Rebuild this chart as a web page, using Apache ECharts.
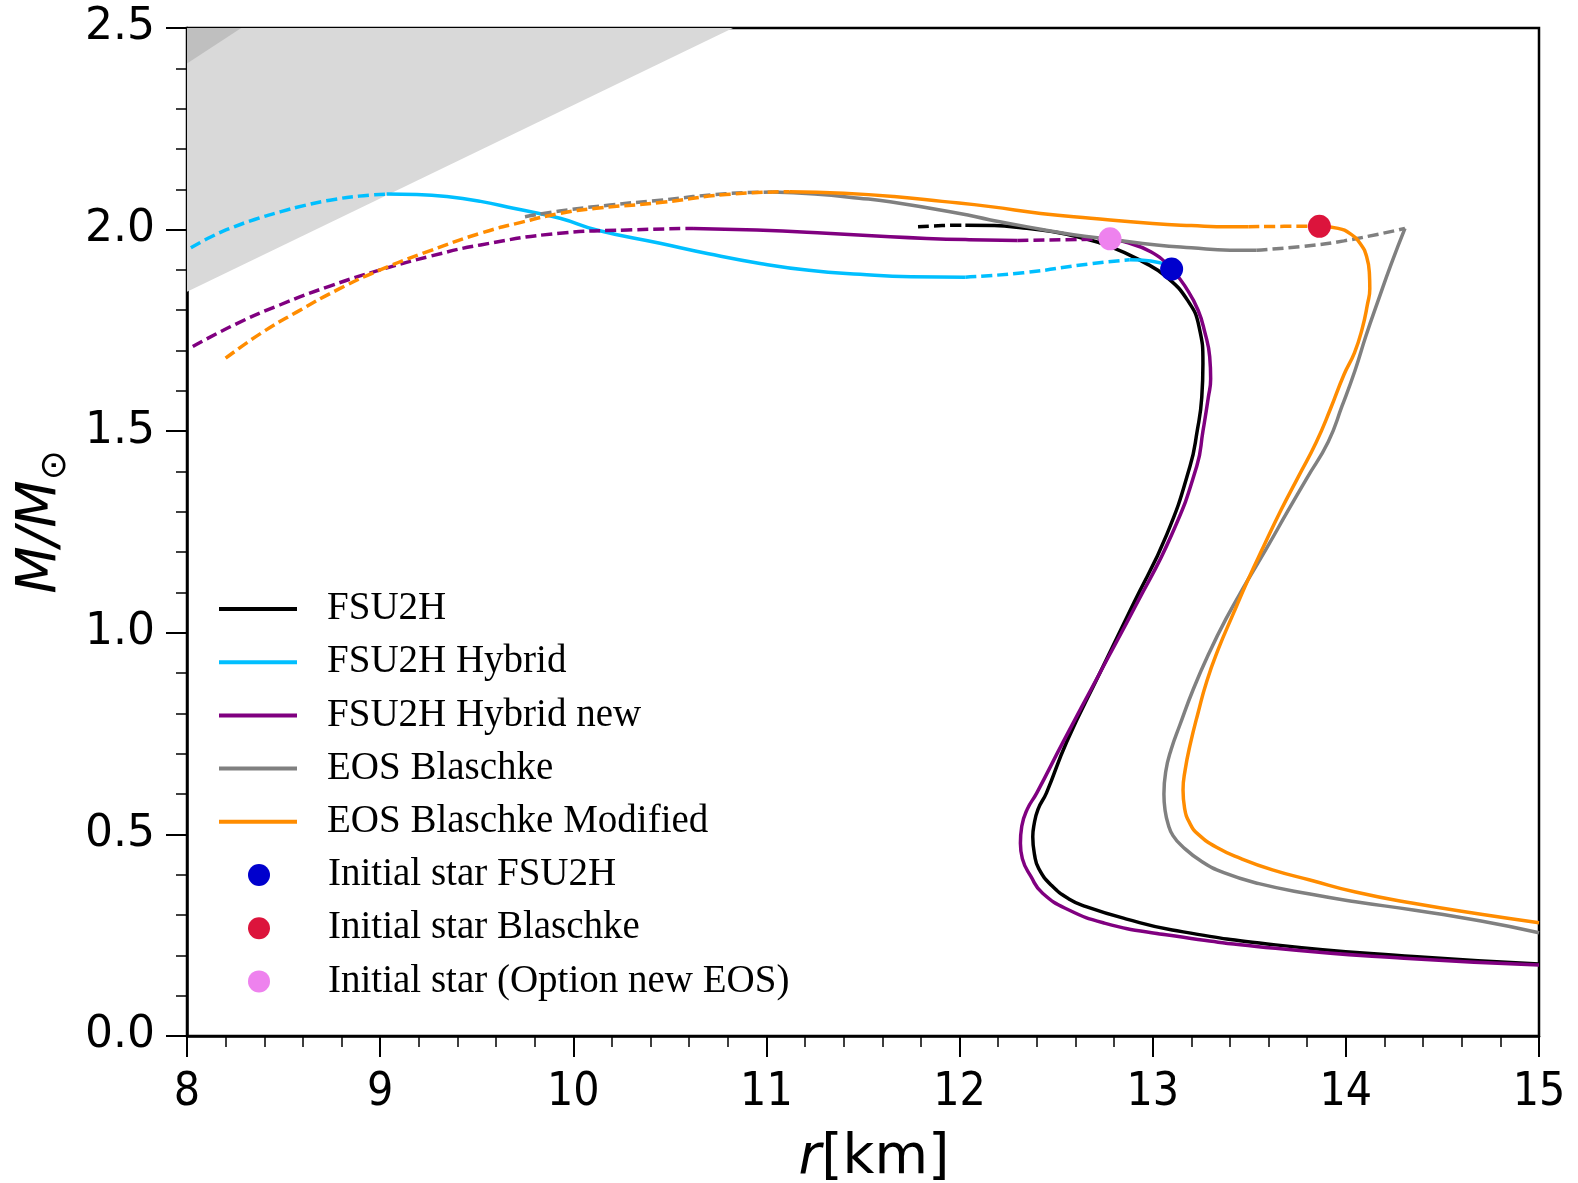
<!DOCTYPE html>
<html><head><meta charset="utf-8">
<script src="https://cdn.jsdelivr.net/npm/echarts@6/dist/echarts.min.js"></script>
<style>html,body{margin:0;padding:0;background:#fff}#c{width:1578px;height:1183px}</style>
</head><body><div id="c"></div>
<script>
// ---------- tick labels ----------
const xTickLabels = ['8','9','10','11','12','13','14','15'];
const yTickLabels = ['0.0','0.5','1.0','1.5','2.0','2.5'];

// ---------- legend names ----------
const lineNames = ['FSU2H','FSU2H Hybrid','FSU2H Hybrid new','EOS Blaschke','EOS Blaschke Modified'];
const starNames = ['Initial star FSU2H','Initial star Blaschke','Initial star (Option new EOS)'];

// ---------- shaded limits [r, M] ----------
const causalityEdge = [[8,1.846],[10.827,2.5]];
const buchdahlEdge = [[8,2.412],[8.281,2.5]];

// ---------- FSU2H ----------
const fsu2hDash1 = [[11.785,2.007],[11.91,2.010],[12.03,2.011]];
const fsu2hSolid1 = [[12.03,2.011],[12.18,2.010],[12.33,2.004],[12.48,1.995],[12.61,1.982],[12.78,1.958],[12.95,1.920],[13.07,1.883],[13.18,1.825],[13.24,1.759],[13.26,1.668],[13.254,1.584],[13.23,1.50],[13.193,1.413],[13.072,1.243],[12.900,1.072],[12.727,0.901],[12.555,0.730],[12.45,0.603],[12.406,0.562],[12.384,0.52],[12.379,0.494],[12.388,0.45],[12.41,0.415],[12.477,0.373],[12.566,0.34],[12.655,0.321],[12.865,0.290],[13.101,0.263],[13.636,0.226],[14.349,0.197],[15.0,0.1786]];

// ---------- FSU2H Hybrid ----------
const hybDash1 = [[8.02,1.955],[8.12,1.981],[8.223,2.003],[8.35,2.025],[8.482,2.044],[8.61,2.060],[8.740,2.073],[8.89,2.083],[9.034,2.088]];
const hybSolid1 = [[9.034,2.088],[9.19,2.087],[9.345,2.082],[9.52,2.070],[9.690,2.053],[9.931,2.028],[10.121,1.999],[10.449,1.966],[10.70,1.940],[10.967,1.916],[11.22,1.899],[11.485,1.889],[11.75,1.883],[12.03,1.882]];
const hybDash2 = [[12.03,1.882],[12.33,1.893],[12.675,1.915],[12.88,1.925]];
const hybSolid2 = [[12.88,1.925],[12.99,1.922],[13.098,1.908]];

// ---------- FSU2H Hybrid new ----------
const newDash1 = [[8.03,1.710],[8.25,1.765],[8.48,1.813],[8.74,1.860],[9.00,1.900],[9.26,1.934],[9.52,1.962],[9.93,1.991],[10.28,1.999],[10.62,2.003]];
const newSolid1 = [[10.62,2.003],[10.95,1.999],[11.31,1.991],[11.64,1.982],[11.83,1.978],[12.05,1.975],[12.30,1.973]];
const newDash2 = [[12.30,1.973],[12.55,1.975],[12.78,1.977]];
const newSolid2 = [[12.78,1.977],[12.85,1.970],[12.99,1.945],[13.098,1.902],[13.18,1.850],[13.235,1.80],[13.27,1.745],[13.295,1.685],[13.300,1.630],[13.288,1.584],[13.26,1.50],[13.228,1.413],[13.098,1.243],[12.917,1.072],[12.727,0.901],[12.537,0.730],[12.40,0.603],[12.35,0.562],[12.322,0.52],[12.315,0.478],[12.325,0.44],[12.37,0.395],[12.43,0.354],[12.566,0.3125],[12.75,0.28],[13.012,0.255],[13.636,0.2175],[14.3,0.193],[15.0,0.176]];

// ---------- EOS Blaschke ----------
const blaDash1 = [[9.75,2.032],[9.93,2.046],[10.19,2.061],[10.45,2.073],[10.79,2.089],[11.03,2.093]];
const blaSolid1 = [[11.03,2.093],[11.25,2.088],[11.48,2.078],[11.64,2.069],[12.0,2.040],[12.16,2.024],[12.42,2.001],[12.59,1.987],[12.78,1.976],[13.02,1.962],[13.20,1.955],[13.40,1.949],[13.538,1.949]];
const blaDash2 = [[13.538,1.949],[13.77,1.958],[13.99,1.972],[14.306,2.003]];
const blaSolid2 = [[14.306,2.003],[14.235,1.915],[14.168,1.825],[14.105,1.738],[14.047,1.650],[13.98,1.562],[13.909,1.474],[13.80,1.385],[13.696,1.299],[13.59,1.21],[13.483,1.123],[13.38,1.035],[13.289,0.947],[13.21,0.86],[13.141,0.772],[13.095,0.71],[13.067,0.655],[13.058,0.60],[13.064,0.56],[13.08,0.525],[13.105,0.497],[13.154,0.47],[13.25,0.434],[13.368,0.405],[13.55,0.378],[13.814,0.352],[14.05,0.333],[14.349,0.3125],[14.7,0.285],[15.0,0.256]];

// ---------- EOS Blaschke Modified ----------
const modDash1 = [[8.20,1.681],[8.38,1.742],[8.57,1.796],[8.78,1.851],[9.00,1.900],[9.26,1.948],[9.52,1.991],[9.73,2.018],[9.93,2.040],[10.12,2.053],[10.45,2.067],[10.79,2.087],[11.12,2.094]];
const modSolid1 = [[11.12,2.094],[11.40,2.090],[11.66,2.082],[11.91,2.070],[12.16,2.057],[12.42,2.040],[12.68,2.028],[13.0,2.015],[13.20,2.010],[13.40,2.007],[13.495,2.007]];
const modDash2 = [[13.495,2.007],[13.68,2.008],[13.863,2.008]];
const modSolid2 = [[13.863,2.008],[13.96,2.003],[14.022,1.990],[14.075,1.965],[14.108,1.932],[14.122,1.890],[14.124,1.853],[14.112,1.815],[14.085,1.755],[14.045,1.695],[13.99,1.640],[13.92,1.555],[13.846,1.472],[13.755,1.388],[13.665,1.305],[13.575,1.215],[13.49,1.128],[13.415,1.045],[13.34,0.960],[13.28,0.880],[13.234,0.800],[13.195,0.725],[13.168,0.660],[13.157,0.610],[13.165,0.565],[13.195,0.525],[13.236,0.50],[13.33,0.468],[13.457,0.440],[13.62,0.412],[13.814,0.387],[14.05,0.357],[14.349,0.329],[14.7,0.302],[15.0,0.281]];

// ---------- initial stars ----------
const starFSU2H = [[13.098,1.902]];
const starBlaschke = [[13.863,2.008]];
const starNewEOS = [[12.779,1.977]];

const colors = {
  'FSU2H':'#000000','FSU2H Hybrid':'#00bfff','FSU2H Hybrid new':'#800080',
  'EOS Blaschke':'#808080','EOS Blaschke Modified':'#ff8c00',
  'Initial star FSU2H':'#0000cd','Initial star Blaschke':'#dc143c','Initial star (Option new EOS)':'#ee82ee'
};
const LW = 3.5;
function seg(name, data, dashed, legendName){
  return {
    type:'line', name: legendName ? name : ('_' + name), data: data,
    showSymbol:false, symbol:'none', smooth:0.5, z:3,
    color: colors[name],
    lineStyle:{color: colors[name], width: LW, type: dashed ? [11,5] : 'solid', cap:'butt', join:'round'},
    emphasis:{disabled:true}, silent:true
  };
}
function shade(data, color, z){
  return {type:'line', name:'_shade'+z, data:data, symbol:'none', showSymbol:false, silent:true, z:z,
    lineStyle:{width:0, color:color}, areaStyle:{origin:'end', color:color, opacity:1}};
}
function star(name, data){
  return {type:'scatter', name:name, data:data, symbol:'circle', symbolSize:23, z:6,
    color: colors[name], itemStyle:{color:colors[name], opacity:1}, silent:true};
}

const series = [
  shade(causalityEdge,'#d9d9d9',1),
  shade(buchdahlEdge,'#bfbfbf',2),
  seg('FSU2H', fsu2hSolid1, false, true),
  seg('FSU2H', fsu2hDash1, true),
  seg('FSU2H Hybrid', hybSolid1, false, true),
  seg('FSU2H Hybrid', hybDash1, true),
  seg('FSU2H Hybrid', hybDash2, true),
  seg('FSU2H Hybrid', hybSolid2, false),
  seg('FSU2H Hybrid new', newSolid1, false, true),
  seg('FSU2H Hybrid new', newDash1, true),
  seg('FSU2H Hybrid new', newDash2, true),
  seg('FSU2H Hybrid new', newSolid2, false),
  seg('EOS Blaschke', blaSolid1, false, true),
  seg('EOS Blaschke', blaDash1, true),
  seg('EOS Blaschke', blaDash2, true),
  seg('EOS Blaschke', blaSolid2, false),
  seg('EOS Blaschke Modified', modSolid1, false, true),
  seg('EOS Blaschke Modified', modDash1, true),
  seg('EOS Blaschke Modified', modDash2, true),
  seg('EOS Blaschke Modified', modSolid2, false),
  star('Initial star FSU2H', starFSU2H),
  star('Initial star Blaschke', starBlaschke),
  star('Initial star (Option new EOS)', starNewEOS)
];

const legendText = {fontFamily:'"Liberation Serif", serif', fontSize:39, lineHeight:40, color:'#000', padding:[0,0,0,25]};
const ROW = 53.2, LTOP = 589;
const option = {
  animation:false,
  backgroundColor:'#fff',
  grid:{left:187, right:39, top:28, bottom:147, containLabel:false, outerBoundsMode:'none',
        show:true, borderColor:'#000', borderWidth:2.5, backgroundColor:'transparent'},
  legend:[
    {data: lineNames, orient:'vertical', left:219, top:LTOP, padding:0, itemGap:ROW-40,
     itemWidth:78, itemHeight:4, icon:'rect', selectedMode:false, textStyle:legendText,
     itemStyle:{borderWidth:0}},
    {data: starNames, orient:'vertical', left:248, top:LTOP + 5*ROW, padding:0, itemGap:ROW-40,
     itemWidth:78, itemHeight:22, icon:'circle', selectedMode:false, textStyle:legendText,
     itemStyle:{borderWidth:0, opacity:1}}
  ],
  xAxis:{type:'value', min:8, max:15, interval:1,
    axisLine:{show:true, onZero:false, lineStyle:{color:'#000', width:2.5}},
    axisTick:{show:true, inside:false, length:21, lineStyle:{color:'#000', width:2}},
    minorTick:{show:true, splitNumber:5, length:11, lineStyle:{color:'#000', width:1.5}},
    splitLine:{show:false},
    axisLabel:{margin:34, color:'#000', fontSize:46,
      fontFamily:'"DejaVu Sans Condensed", "DejaVu Sans", sans-serif',
      formatter:(v)=> xTickLabels[Math.round(v-8)]},
    name:'{i|r}{n|[km]}', nameLocation:'middle', nameGap:95,
    nameTextStyle:{padding:[0,0,0,22], rich:{
      i:{fontFamily:'"DejaVu Sans", sans-serif', fontStyle:'italic', fontSize:55, color:'#000'},
      n:{fontFamily:'"DejaVu Sans", sans-serif', fontSize:55, color:'#000'}}}
  },
  yAxis:{type:'value', min:0, max:2.5, interval:0.5,
    axisLine:{show:true, onZero:false, lineStyle:{color:'#000', width:2.5}},
    axisTick:{show:true, inside:false, length:21, lineStyle:{color:'#000', width:2}},
    minorTick:{show:true, splitNumber:5, length:11, lineStyle:{color:'#000', width:1.5}},
    splitLine:{show:false},
    axisLabel:{margin:32, color:'#000', fontSize:44, fontFamily:'"DejaVu Sans", sans-serif',
      formatter:(v)=> yTickLabels[Math.round(v/0.5)]},
    name:'{i|M/M}{s|⊙}', nameLocation:'middle', nameGap:112,
    nameTextStyle:{padding:[0,0,0,20], rich:{
      i:{fontFamily:'"DejaVu Sans", sans-serif', fontStyle:'italic', fontSize:55, lineHeight:66, color:'#000'},
      s:{fontFamily:'"DejaVu Sans", sans-serif', fontSize:36, lineHeight:36, verticalAlign:'bottom', color:'#000'}}}
  },
  series: series
};
const chart = echarts.init(document.getElementById('c'), null, {renderer:'canvas'});
chart.setOption(option);
</script></body></html>
